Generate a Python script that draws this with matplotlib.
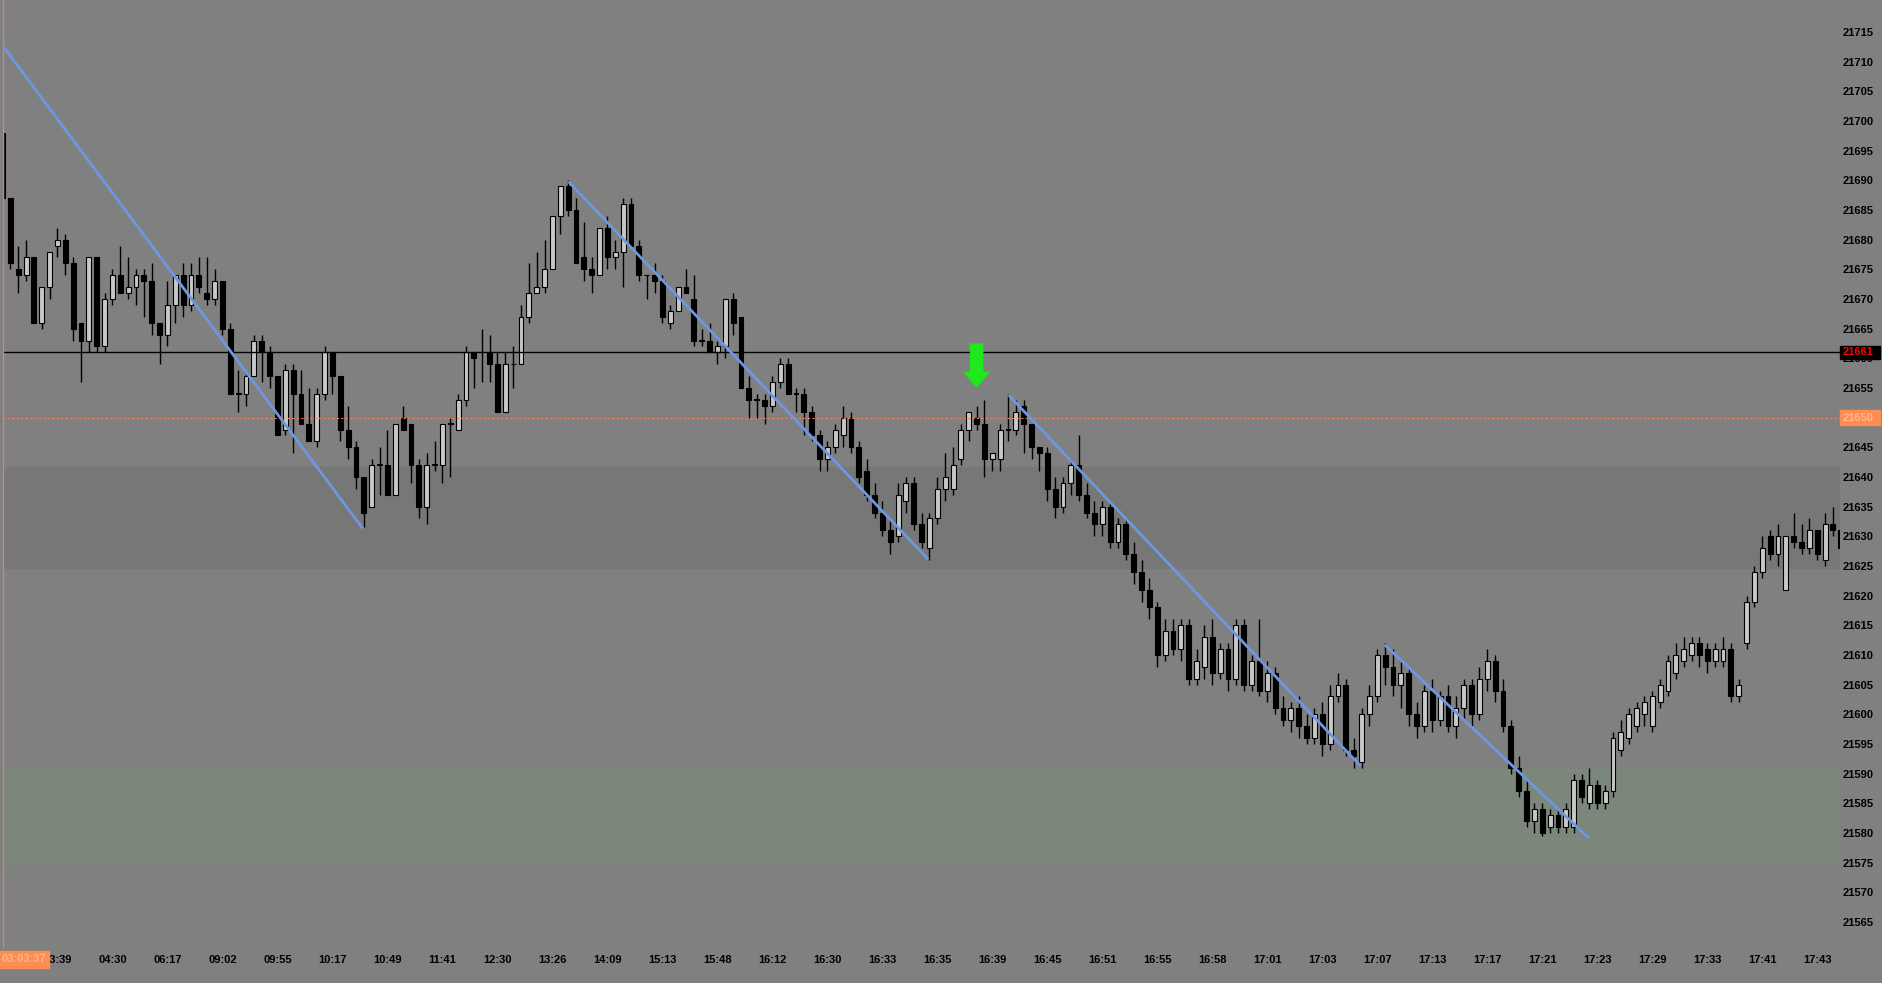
import numpy as np
import matplotlib.pyplot as plt
from matplotlib.patches import Polygon, Rectangle
import matplotlib.transforms as mtrans

# candle data (one value per bar, left to right)
opens = [
    21698, 21687, 21675, 21674, 21677, 21666, 21672, 21679, 21680, 21676,
    21666, 21663, 21677, 21662, 21670, 21674, 21671, 21672, 21674, 21673,
    21666, 21664, 21669, 21674, 21669, 21674, 21671, 21670, 21673, 21665,
    21654, 21654, 21657, 21663, 21661, 21657, 21648, 21658, 21654, 21649,
    21646, 21654, 21661, 21657, 21648, 21645, 21640, 21635, 21642, 21642,
    21637, 21650, 21649, 21642, 21635, 21642, 21642, 21649, 21648, 21653,
    21661, 21661, 21661, 21659, 21651, 21659, 21659, 21667, 21671, 21672,
    21675, 21684, 21689, 21685, 21677, 21675, 21674, 21682, 21677, 21678,
    21686, 21679, 21674, 21674, 21673, 21666, 21668, 21672, 21670, 21663,
    21663, 21661, 21662, 21670, 21667, 21655, 21653, 21653, 21652, 21656,
    21659, 21654, 21654, 21651, 21647, 21643, 21645, 21647, 21650, 21645,
    21641, 21637, 21634, 21631, 21630, 21636, 21639, 21632, 21628, 21633,
    21638, 21638, 21643, 21648, 21650, 21649, 21643, 21643, 21648, 21648,
    21652, 21649, 21645, 21644, 21638, 21635, 21639, 21642, 21637, 21634,
    21632, 21635, 21629, 21632, 21627, 21624, 21621, 21618, 21610, 21614,
    21611, 21615, 21606, 21608, 21613, 21607, 21611, 21606, 21615, 21605,
    21609, 21604, 21607, 21601, 21599, 21601, 21598, 21596, 21600, 21595,
    21603, 21605, 21594, 21592, 21600, 21603, 21610, 21608, 21605, 21607,
    21600, 21598, 21604, 21599, 21603, 21598, 21601, 21605, 21600, 21606,
    21609, 21604, 21598, 21591, 21587, 21582, 21584, 21581, 21583, 21581,
    21581, 21589, 21585, 21588, 21585, 21587, 21594, 21596, 21598, 21600,
    21598, 21602, 21604, 21607, 21609, 21610, 21612, 21611, 21609, 21609,
    21611, 21603, 21612, 21619, 21624, 21630, 21627, 21621, 21630, 21629,
    21628, 21631, 21626, 21632, 21631,
]
highs = [
    21698, 21687, 21679, 21680, 21677, 21672, 21678, 21682, 21681, 21677,
    21666, 21677, 21677, 21671, 21675, 21679, 21677, 21675, 21675, 21676,
    21666, 21673, 21674, 21676, 21676, 21677, 21677, 21675, 21673, 21666,
    21658, 21657.5, 21664, 21664, 21662, 21657, 21659, 21659, 21658, 21655,
    21655, 21662, 21661, 21657, 21652, 21646, 21640, 21643, 21645, 21648,
    21649, 21652, 21649, 21643, 21644, 21646, 21649, 21650, 21654, 21662,
    21661, 21665, 21664, 21661, 21661, 21662, 21669, 21676, 21678, 21680,
    21684, 21689, 21690, 21687, 21683, 21677, 21682, 21684, 21680, 21687,
    21687, 21680, 21674, 21676, 21674, 21669, 21672, 21675, 21674, 21665,
    21666, 21663, 21670, 21671, 21667, 21657, 21654, 21654, 21657, 21660,
    21660, 21655, 21655, 21652, 21648, 21646, 21649, 21652, 21651, 21646,
    21643, 21639, 21636, 21633, 21639, 21640, 21640, 21634, 21634, 21640,
    21644, 21645, 21649, 21651, 21652, 21653, 21644, 21649, 21654, 21653,
    21653, 21649, 21645, 21645, 21640, 21640, 21643, 21647, 21639, 21636,
    21636, 21636, 21633, 21633, 21629, 21626, 21623, 21619, 21616, 21616,
    21616, 21616, 21611, 21615, 21616, 21612, 21612, 21616, 21616, 21610,
    21616, 21609, 21608, 21603, 21602, 21603, 21600, 21601, 21602, 21605,
    21607, 21606, 21596, 21601, 21605, 21611, 21612, 21611, 21609, 21608,
    21602, 21605, 21606, 21604, 21605, 21603, 21606, 21606, 21608, 21611,
    21610, 21606, 21599, 21593, 21589, 21585, 21585, 21584, 21584, 21585,
    21590, 21590, 21591, 21589, 21588, 21597, 21599, 21601, 21602, 21603,
    21604, 21606, 21610, 21612, 21613, 21613, 21613, 21612, 21612, 21613,
    21612, 21606, 21620, 21625, 21630, 21631, 21632, 21630, 21634, 21632,
    21633, 21631, 21634, 21635, 21631,
]
lows = [
    21683, 21675, 21671, 21673, 21666, 21665, 21670, 21677, 21674, 21663,
    21656, 21661, 21661, 21661, 21669, 21671, 21670, 21669, 21667, 21664,
    21659, 21662, 21666, 21667, 21668, 21671, 21669, 21669, 21664, 21654,
    21651, 21652, 21657, 21656, 21655, 21647, 21647, 21644, 21649, 21646,
    21645, 21653, 21654, 21646, 21643, 21638, 21631.5, 21635, 21637, 21637,
    21637, 21648, 21639, 21633, 21632, 21641, 21639, 21640, 21648, 21652,
    21655, 21656, 21656, 21651, 21651, 21655, 21659, 21666, 21671, 21671,
    21675, 21681, 21684, 21676, 21673, 21671, 21674, 21675, 21675, 21672,
    21679, 21673, 21670, 21671, 21666, 21665, 21668, 21671, 21662, 21662,
    21661, 21659, 21660, 21664, 21655, 21650, 21650, 21649, 21651, 21655,
    21654, 21651, 21647, 21646, 21641, 21641, 21644, 21645, 21644, 21639,
    21636, 21633, 21630, 21627, 21629, 21634, 21631, 21628, 21626, 21632,
    21636, 21637, 21642, 21646, 21648, 21640, 21641, 21641, 21646, 21647,
    21644, 21643, 21641, 21636, 21633, 21634, 21637, 21636, 21633, 21630,
    21630, 21628, 21628, 21626, 21622, 21619, 21616, 21608, 21609, 21610,
    21609, 21605, 21605, 21606, 21605, 21606, 21604, 21605, 21604, 21604,
    21603, 21602, 21600, 21598, 21597, 21596, 21595, 21595, 21593, 21594,
    21602, 21593, 21591, 21591, 21598, 21602, 21605, 21603, 21601, 21598,
    21596, 21597, 21597, 21598, 21597, 21596, 21599, 21598, 21599, 21604,
    21602, 21597, 21590, 21586, 21581, 21580, 21579.5, 21580, 21580, 21580,
    21580, 21585, 21584, 21584, 21584, 21586, 21593, 21595, 21597, 21598,
    21597, 21601, 21603, 21606, 21608, 21609, 21608, 21607, 21608, 21608,
    21602, 21602, 21611, 21618, 21623, 21626, 21625, 21621, 21628, 21627,
    21627, 21626, 21625, 21630, 21628,
]
closes = [
    21687, 21676, 21674, 21677, 21666, 21672, 21678, 21680, 21676, 21665,
    21663, 21677, 21662, 21670, 21674, 21671, 21672, 21674, 21673, 21666,
    21664, 21669, 21674, 21669, 21674, 21672, 21670, 21673, 21665, 21654,
    21654, 21657, 21663, 21661, 21657, 21647, 21658, 21654, 21649, 21646,
    21654, 21661, 21657, 21648, 21645, 21640, 21634, 21642, 21642, 21637,
    21649, 21648, 21642, 21635, 21642, 21642, 21649, 21649, 21653, 21661,
    21660, 21661, 21659, 21651, 21659, 21659, 21667, 21671, 21672, 21675,
    21684, 21689, 21685, 21676, 21675, 21674, 21682, 21677, 21678, 21686,
    21679, 21674, 21674, 21673, 21667, 21668, 21672, 21671, 21663, 21663,
    21661, 21662, 21670, 21666, 21655, 21653, 21653, 21652, 21656, 21659,
    21654, 21654, 21651, 21647, 21643, 21645, 21648, 21650, 21645, 21640,
    21637, 21634, 21631, 21629, 21637, 21639, 21632, 21629, 21633, 21638,
    21640, 21642, 21648, 21651, 21649, 21643, 21644, 21648, 21648, 21651,
    21649, 21645, 21644, 21638, 21635, 21639, 21642, 21637, 21634, 21632,
    21635, 21629, 21632, 21627, 21624, 21621, 21618, 21610, 21614, 21611,
    21615, 21606, 21609, 21613, 21607, 21611, 21606, 21615, 21605, 21609,
    21604, 21607, 21601, 21599, 21601, 21598, 21596, 21600, 21595, 21603,
    21605, 21594, 21593, 21600, 21603, 21610, 21608, 21605, 21607, 21600,
    21598, 21604, 21599, 21603, 21598, 21601, 21605, 21600, 21606, 21609,
    21604, 21598, 21591, 21587, 21582, 21584, 21580, 21583, 21581, 21584,
    21589, 21586, 21588, 21585, 21587, 21596, 21597, 21600, 21601, 21602,
    21603, 21605, 21609, 21610, 21611, 21612, 21610, 21609, 21611, 21611,
    21603, 21605, 21619, 21624, 21628, 21627, 21630, 21630, 21629, 21628,
    21631, 21627, 21632, 21631, 21628,
]

time_labels = ["03:39", "04:30", "06:17", "09:02", "09:55", "10:17", "10:49",
               "11:41", "12:30", "13:26", "14:09", "15:13", "15:48", "16:12",
               "16:30", "16:33", "16:35", "16:39", "16:45", "16:51", "16:55",
               "16:58", "17:01", "17:03", "17:07", "17:13", "17:17", "17:21",
               "17:23", "17:29", "17:33", "17:41", "17:43"]
label_step = 7
price_ticks = np.arange(21565, 21716, 5)

# trend lines: (bar index, price) pairs
trend_lines = [
    ((0.14, 21712.5), (45.86, 21631.3)),
    ((72.03, 21689.8), (117.86, 21626.1)),
    ((128.07, 21653.8), (172.89, 21591.25)),
    ((175.95, 21611.7), (201.95, 21579.1)),
]
last_price = 21661
cursor_price = 21650
cursor_time = "03:03:37"
zone_dark = (21624.6, 21641.6)
zone_green = (21574.6, 21590.8)
arrow_bar = 124
arrow_tip = 21655.2

BG = "#808080"
ORANGE = "#ff8c50"
ORANGE_TXT = "#ffb68c"

o = np.array(opens, float)
h = np.array(highs, float)
l = np.array(lows, float)
c = np.array(closes, float)
x = np.arange(len(o))

fig = plt.figure(figsize=(18.83, 9.83), dpi=100, facecolor=BG)
ax = fig.add_axes([3 / 1883, 35 / 983, 1837 / 1883, 948 / 983])
ax.set_facecolor(BG)
for s in ax.spines.values():
    s.set_visible(False)

ax.axhspan(*zone_dark, color="#777777", zorder=0)
ax.axhspan(*zone_green, color="#7a877a", zorder=0)

# candles
ax.vlines(x, l, h, color="black", lw=1, zorder=2)
bull = c >= o
body = np.abs(c - o)
body = np.where(body == 0, 0.12, body)
ax.bar(x, body, bottom=np.minimum(o, c), width=0.62,
       color=np.where(bull, "#c8c8c8", "black"), edgecolor="black",
       linewidth=0.8, zorder=3)

# levels
ax.axhline(last_price, color="black", lw=1, zorder=4)
ax.axhline(cursor_price, color="#ff7f50", lw=0.8, ls=(0, (2, 2)), zorder=4)
ax.axvline(0.1, color="#e8805a", lw=1, zorder=4)

for (x0, y0), (x1, y1) in trend_lines:
    ax.plot([x0, x1], [y0, y1], color="#6d98e0", lw=2, zorder=5,
            solid_capstyle="butt")

# green down arrow
a = arrow_bar
arrow = Polygon([(a - 0.77, arrow_tip + 7.2), (a + 0.77, arrow_tip + 7.2),
                 (a + 0.77, arrow_tip + 2.4), (a + 1.55, arrow_tip + 2.4),
                 (a, arrow_tip), (a - 1.55, arrow_tip + 2.4),
                 (a - 0.77, arrow_tip + 2.4)],
                closed=True, color="#1ee81e", zorder=6)
ax.add_patch(arrow)

ax.set_xlim(0.064, 233.9)
ax.set_ylim(21560.6, 21720.4)

ax.yaxis.tick_right()
ax.set_yticks(price_ticks)
ax.set_yticklabels([str(p) for p in price_ticks])
ax.tick_params(axis="y", length=0, pad=2.2, labelsize=8, labelcolor="black")
for t in ax.get_yticklabels():
    t.set_fontweight("bold")
    t.set_family("Liberation Sans")

ticks = [label_step * (k + 1) for k in range(len(time_labels))]
ax.set_xticks(ticks)
ax.set_xticklabels(time_labels)
ax.tick_params(axis="x", length=0, pad=5, labelsize=8, labelcolor="black")
for t in ax.get_xticklabels():
    t.set_fontweight("bold")
    t.set_family("Liberation Sans")

# price boxes on the right
tr = mtrans.blended_transform_factory(ax.transAxes, ax.transData)
bw = 40 / 1837
ax.add_patch(Rectangle((1.0, last_price - 1.15), bw, 2.3, transform=tr,
                       color="black", clip_on=False, zorder=7))
ax.text(1 + 3 / 1837, last_price, str(last_price), transform=tr, color="red",
        fontsize=8, fontweight="bold", family="Liberation Sans",
        va="center", ha="left", zorder=8, clip_on=False)
ax.add_patch(Rectangle((1.0, cursor_price - 1.25), bw, 2.5, transform=tr,
                       color=ORANGE, clip_on=False, zorder=7))
ax.text(1 + 3 / 1837, cursor_price, str(cursor_price), transform=tr,
        color=ORANGE_TXT, fontsize=8, fontweight="bold",
        family="Liberation Sans", va="center", ha="left", zorder=8,
        clip_on=False)

# cursor time box bottom-left
fig.patches.append(Rectangle((0, 15 / 983), 49 / 1883, 17 / 983,
                             transform=fig.transFigure, color=ORANGE,
                             zorder=7))
fig.text(24 / 1883, 23.5 / 983, cursor_time, color=ORANGE_TXT, fontsize=8,
         fontweight="bold", family="Liberation Sans", ha="center",
         va="center", zorder=8)

fig.savefig("out.png", dpi=100, facecolor=BG)
